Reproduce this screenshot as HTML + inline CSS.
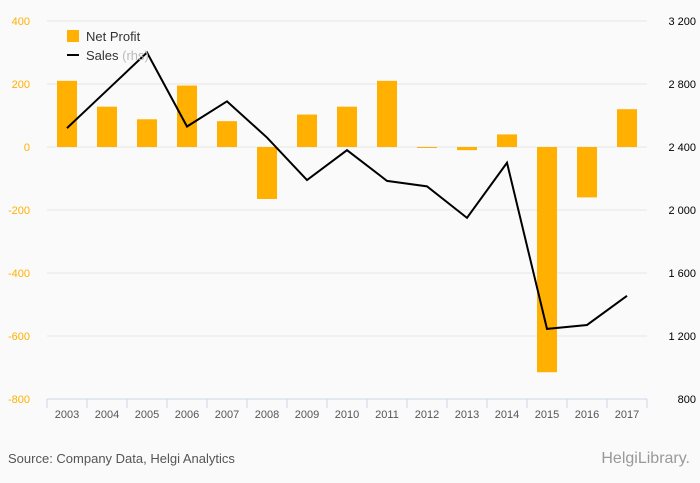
<!DOCTYPE html>
<html><head><meta charset="utf-8"><style>
body{margin:0;background:#fafafa;}
svg{display:block;font-family:"Liberation Sans",sans-serif;}
</style></head><body>
<svg id="c" width="700" height="483">
<rect width="700" height="483" fill="#fafafa"/>
<g id="grid"></g><g id="bars"></g><g id="line"></g><g id="axes"></g>
<g>
<rect x="67" y="30" width="12" height="12" fill="#ffb000"/>
<text x="86" y="41" font-size="13" fill="#333">Net Profit</text>
<line x1="67" y1="55" x2="79" y2="55" stroke="#000" stroke-width="2"/>
<text x="86" y="60" font-size="13" fill="#333">Sales <tspan fill="#bbb">(rhs)</tspan></text>
</g>
<text x="8" y="463" font-size="13" fill="#555">Source: Company Data, Helgi Analytics</text>
<text x="690" y="463" font-size="16" fill="#999" text-anchor="end">HelgiLibrary.</text>
</svg>
<script>
const categories=["2003","2004","2005","2006","2007","2008","2009","2010","2011","2012","2013","2014","2015","2016","2017"];
const netProfit=[210,128,88,195,82,-165,103,128,210,-3,-10,40,-715,-160,120];
const sales=[2520,2760,3000,2530,2690,2460,2190,2380,2185,2150,1950,2300,1245,1270,1455];
const leftTicks=[400,200,0,-200,-400,-600,-800];
const rightTicks=["3 200","2 800","2 400","2 000","1 600","1 200","800"];
const rightVals=[3200,2800,2400,2000,1600,1200,800];
const NS="http://www.w3.org/2000/svg";
const X0=47,X1=647,YT=21,YB=399;
const bw=(X1-X0)/categories.length;
const yL=v=>YT+(400-v)/1200*(YB-YT);
const yR=v=>YT+(3200-v)/2400*(YB-YT);
const xC=i=>X0+bw*(i+0.5);
function mk(t,a,p){const e=document.createElementNS(NS,t);for(const k in a)e.setAttribute(k,a[k]);p.appendChild(e);return e;}
const grid=document.getElementById('grid'),bars=document.getElementById('bars'),line=document.getElementById('line'),axes=document.getElementById('axes');
leftTicks.forEach((v,i)=>{
 const y=yL(v);
 if(i<leftTicks.length-1){const g=mk('line',{x1:X0,x2:X1,y1:y,y2:y,stroke:'#e6e6e6'},grid);
 
 }
 const t=mk('text',{x:30,y:y+4,'font-size':11,fill:'#ffb000','text-anchor':'end'},axes);t.textContent=v;
 
 
});
rightVals.forEach((v,i)=>{
 const t=mk('text',{x:696,y:yR(v)+4,'font-size':11,fill:'#000','text-anchor':'end'},axes);t.textContent=rightTicks[i];
 
 
});
const ax=mk('line',{x1:X0,x2:X1,y1:YB,y2:YB,stroke:'#ccd6eb'},axes);


for(let i=0;i<=categories.length;i++){const tk=mk('line',{x1:X0+bw*i,x2:X0+bw*i,y1:YB,y2:YB+9,stroke:'#ccd6eb'},axes);
 
 }
categories.forEach((c,i)=>{
 const t=mk('text',{x:xC(i),y:418,'font-size':11,fill:'#555','text-anchor':'middle'},axes);t.textContent=c;
 
 
 const v=netProfit[i],y0=yL(0),y1=yL(v);
 const r=mk('rect',{x:xC(i)-10,y:Math.min(y0,y1),width:20,height:Math.max(1,Math.abs(y1-y0)),fill:'#ffb000'},bars);
 
 
});
const p=mk('polyline',{points:sales.map((v,i)=>xC(i)+','+yR(v)).join(' '),fill:'none',stroke:'#000','stroke-width':2},line);


</script>
</body></html>
